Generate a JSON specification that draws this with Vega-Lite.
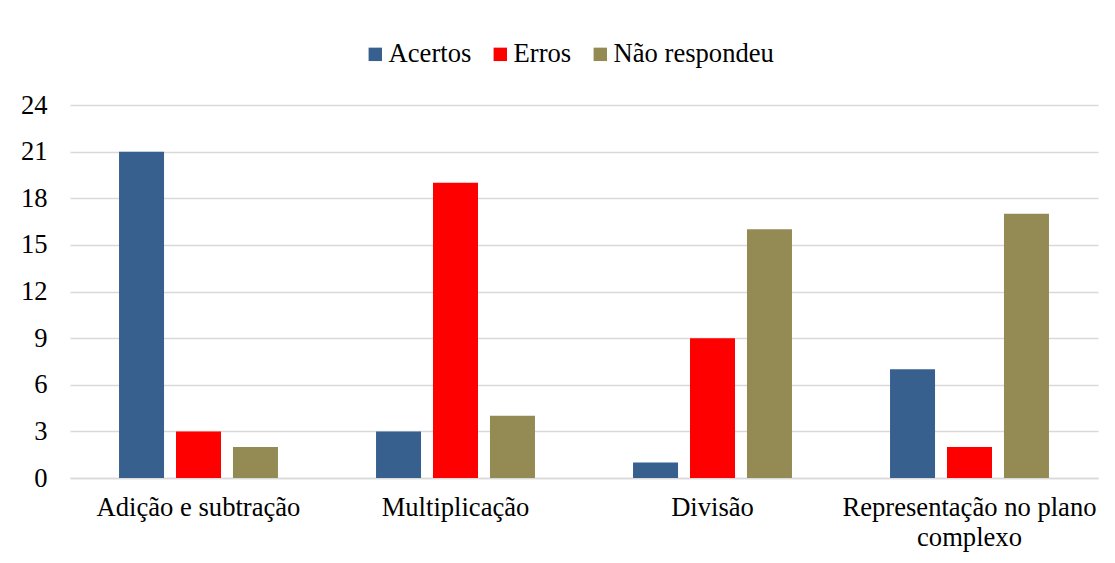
{
  "$schema": "https://vega.github.io/schema/vega-lite/v6.json",
  "width": 1028,
  "height": 373,
  "autosize": {"type": "none"},
  "padding": {"left": 70, "top": 105, "right": 17, "bottom": 85},
  "background": "white",
  "config": {
    "font": "Liberation Serif",
    "view": {"stroke": null}
  },
  "data": {
    "values": [
      {"categoria": "Adição e subtração", "serie": "Acertos", "valor": 21},
      {"categoria": "Adição e subtração", "serie": "Erros", "valor": 3},
      {"categoria": "Adição e subtração", "serie": "Não respondeu", "valor": 2},
      {"categoria": "Multiplicação", "serie": "Acertos", "valor": 3},
      {"categoria": "Multiplicação", "serie": "Erros", "valor": 19},
      {"categoria": "Multiplicação", "serie": "Não respondeu", "valor": 4},
      {"categoria": "Divisão", "serie": "Acertos", "valor": 1},
      {"categoria": "Divisão", "serie": "Erros", "valor": 9},
      {"categoria": "Divisão", "serie": "Não respondeu", "valor": 16},
      {"categoria": "Representação no plano complexo", "serie": "Acertos", "valor": 7},
      {"categoria": "Representação no plano complexo", "serie": "Erros", "valor": 2},
      {"categoria": "Representação no plano complexo", "serie": "Não respondeu", "valor": 17}
    ]
  },
  "mark": {"type": "bar"},
  "encoding": {
    "x": {
      "field": "categoria",
      "type": "nominal",
      "sort": null,
      "scale": {"paddingInner": 0.335, "paddingOuter": 0.1675},
      "axis": {
        "title": null,
        "labelAngle": 0,
        "labelFont": "Liberation Serif",
        "labelFontSize": 26.6,
        "labelColor": "#000000",
        "labelPadding": 16,
        "labelLineHeight": 30,
        "labelLimit": 0,
        "ticks": false,
        "domainColor": "#d9d9d9",
        "domainWidth": 1.5,
        "labelExpr": "datum.label == 'Representação no plano complexo' ? ['Representação no plano', 'complexo'] : datum.label"
      }
    },
    "xOffset": {
      "field": "serie",
      "type": "nominal",
      "scale": {"paddingInner": 0.21, "paddingOuter": 0.105}
    },
    "y": {
      "field": "valor",
      "type": "quantitative",
      "scale": {"domain": [0, 24]},
      "axis": {
        "title": null,
        "values": [0, 3, 6, 9, 12, 15, 18, 21, 24],
        "labelFont": "Liberation Serif",
        "labelFontSize": 26.6,
        "labelColor": "#000000",
        "labelPadding": 23,
        "ticks": false,
        "domain": false,
        "gridColor": "#d9d9d9",
        "gridWidth": 1.5
      }
    },
    "color": {
      "field": "serie",
      "type": "nominal",
      "scale": {
        "domain": ["Acertos", "Erros", "Não respondeu"],
        "range": ["#37608f", "#ff0000", "#948a54"]
      },
      "legend": {
        "title": null,
        "orient": "none",
        "legendX": 292,
        "legendY": -64,
        "direction": "horizontal",
        "symbolType": "square",
        "symbolSize": 180,
        "symbolStrokeWidth": 0,
        "symbolOpacity": 1,
        "labelFont": "Liberation Serif",
        "labelFontSize": 26.6,
        "labelColor": "#000000",
        "columnPadding": 15,
        "labelOffset": 0,
        "labelLimit": 0
      }
    }
  }
}
